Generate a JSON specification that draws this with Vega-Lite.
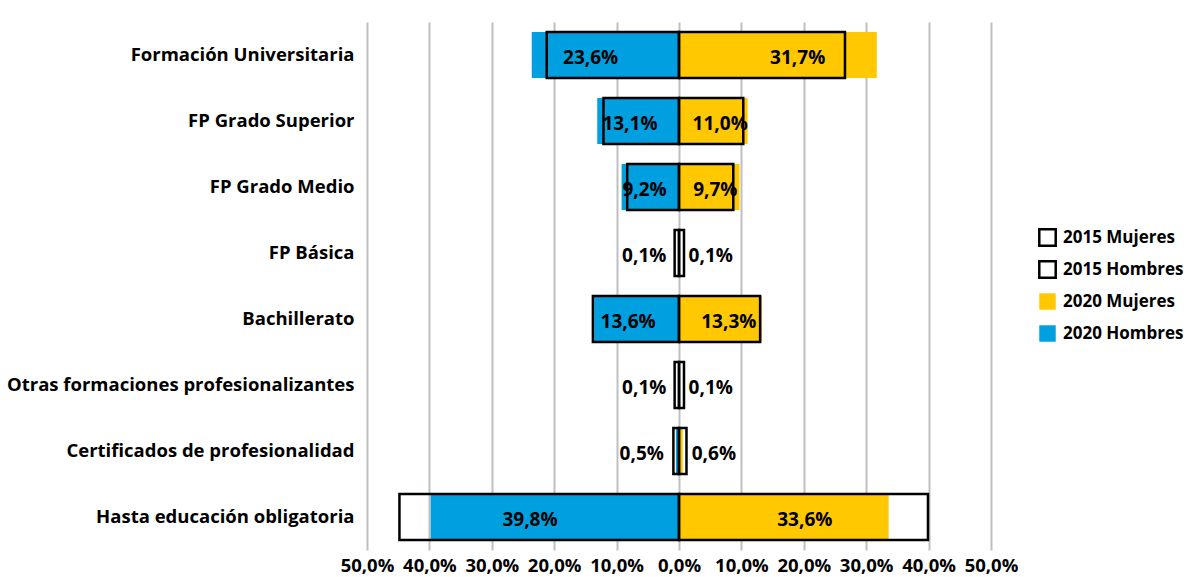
{
  "$schema": "https://vega.github.io/schema/vega-lite/v6.json",
  "autosize": {"type": "none"},
  "padding": {"left": 367, "top": 22, "right": 195, "bottom": 27},
  "width": 624,
  "height": 528,
  "background": "white",
  "config": {
    "view": {"stroke": null},
    "font": "Open Sans",
    "text": {"font": "Open Sans"}
  },
  "data": {
    "values": [
      {"cat": "Formación Universitaria", "serie": "2020 Hombres", "v": -23.6},
      {"cat": "Formación Universitaria", "serie": "2020 Mujeres", "v": 31.7},
      {"cat": "FP Grado Superior", "serie": "2020 Hombres", "v": -13.1},
      {"cat": "FP Grado Superior", "serie": "2020 Mujeres", "v": 11.0},
      {"cat": "FP Grado Medio", "serie": "2020 Hombres", "v": -9.2},
      {"cat": "FP Grado Medio", "serie": "2020 Mujeres", "v": 9.7},
      {"cat": "FP Básica", "serie": "2020 Hombres", "v": -0.1},
      {"cat": "FP Básica", "serie": "2020 Mujeres", "v": 0.1},
      {"cat": "Bachillerato", "serie": "2020 Hombres", "v": -13.6},
      {"cat": "Bachillerato", "serie": "2020 Mujeres", "v": 13.3},
      {"cat": "Otras formaciones profesionalizantes", "serie": "2020 Hombres", "v": -0.1},
      {"cat": "Otras formaciones profesionalizantes", "serie": "2020 Mujeres", "v": 0.1},
      {"cat": "Certificados de profesionalidad", "serie": "2020 Hombres", "v": -0.5},
      {"cat": "Certificados de profesionalidad", "serie": "2020 Mujeres", "v": 0.6},
      {"cat": "Hasta educación obligatoria", "serie": "2020 Hombres", "v": -39.8},
      {"cat": "Hasta educación obligatoria", "serie": "2020 Mujeres", "v": 33.6},
      {"cat": "Formación Universitaria", "serie": "2015 Hombres", "v": -21.2},
      {"cat": "Formación Universitaria", "serie": "2015 Mujeres", "v": 26.6},
      {"cat": "FP Grado Superior", "serie": "2015 Hombres", "v": -12.1},
      {"cat": "FP Grado Superior", "serie": "2015 Mujeres", "v": 10.3},
      {"cat": "FP Grado Medio", "serie": "2015 Hombres", "v": -8.3},
      {"cat": "FP Grado Medio", "serie": "2015 Mujeres", "v": 8.7},
      {"cat": "FP Básica", "serie": "2015 Hombres", "v": -0.7},
      {"cat": "FP Básica", "serie": "2015 Mujeres", "v": 0.8},
      {"cat": "Bachillerato", "serie": "2015 Hombres", "v": -13.8},
      {"cat": "Bachillerato", "serie": "2015 Mujeres", "v": 13.0},
      {"cat": "Otras formaciones profesionalizantes", "serie": "2015 Hombres", "v": -0.7},
      {"cat": "Otras formaciones profesionalizantes", "serie": "2015 Mujeres", "v": 0.8},
      {"cat": "Certificados de profesionalidad", "serie": "2015 Hombres", "v": -0.9},
      {"cat": "Certificados de profesionalidad", "serie": "2015 Mujeres", "v": 1.2},
      {"cat": "Hasta educación obligatoria", "serie": "2015 Hombres", "v": -44.8},
      {"cat": "Hasta educación obligatoria", "serie": "2015 Mujeres", "v": 39.9}
    ]
  },
  "encoding": {
    "y": {
      "field": "cat",
      "type": "nominal",
      "sort": ["Formación Universitaria", "FP Grado Superior", "FP Grado Medio", "FP Básica", "Bachillerato", "Otras formaciones profesionalizantes", "Certificados de profesionalidad", "Hasta educación obligatoria"],
      "scale": {"paddingInner": 0.3, "paddingOuter": 0.15},
      "title": null,
      "axis": {"domain": false, "ticks": false, "grid": false, "labelFontSize": 18.5, "labelFontWeight": "bold", "labelColor": "black", "labelPadding": 13, "labelFont": "Open Sans", "labelLimit": 500}
    }
  },
  "layer": [
    {
      "mark": {"type": "bar", "strokeWidth": 2.5},
      "encoding": {
        "x": {
          "field": "v",
          "type": "quantitative",
          "stack": null,
          "scale": {"domain": [-50, 50], "nice": false},
          "title": null,
          "axis": {
            "values": [-50, -40, -30, -20, -10, 0, 10, 20, 30, 40, 50],
            "labelExpr": "replace(format(abs(datum.value),'.1f'),'.',',') + '%'",
            "domain": false, "ticks": false, "grid": true,
            "gridColor": "#BFBFBF", "gridWidth": 2,
            "labelFontSize": 18.5, "labelFontWeight": "bold", "labelColor": "black",
            "labelPadding": 6, "labelFont": "Open Sans", "labelFlush": false, "labelOverlap": false
          }
        },
        "fill": {
          "field": "serie",
          "type": "nominal",
          "scale": {"domain": ["2015 Mujeres", "2015 Hombres", "2020 Mujeres", "2020 Hombres"], "range": ["transparent", "transparent", "#FFC800", "#009FDF"]},
          "legend": {
            "title": null, "orient": "none", "legendX": 671, "legendY": 206,
            "symbolType": "square", "symbolSize": 270, "symbolStrokeWidth": 2.5,
            "labelFontSize": 17, "labelFontWeight": "bold", "labelColor": "black", "labelFont": "Open Sans",
            "rowPadding": 5, "labelOffset": 6, "labelLimit": 300
          }
        },
        "stroke": {
          "field": "serie",
          "type": "nominal",
          "scale": {"domain": ["2015 Mujeres", "2015 Hombres", "2020 Mujeres", "2020 Hombres"], "range": ["black", "black", "transparent", "transparent"]}
        }
      }
    },
    {
      "transform": [
        {"filter": "indexof(datum.serie, '2020') == 0 && abs(datum.v) >= 1"},
        {"calculate": "datum.v * 0.6", "as": "pos"},
        {"calculate": "replace(format(abs(datum.v),'.1f'),'.',',') + '%'", "as": "lbl"}
      ],
      "mark": {"type": "text", "fontSize": 19, "fontWeight": "bold", "color": "black", "baseline": "middle", "dy": 3},
      "encoding": {
        "x": {"field": "pos", "type": "quantitative"},
        "text": {"field": "lbl"}
      }
    },
    {
      "transform": [
        {"filter": "datum.serie == '2020 Hombres' && abs(datum.v) < 1"},
        {"calculate": "replace(format(abs(datum.v),'.1f'),'.',',') + '%'", "as": "lbl"}
      ],
      "mark": {"type": "text", "fontSize": 19, "fontWeight": "bold", "color": "black", "baseline": "middle", "align": "right", "dx": -12, "dy": 3},
      "encoding": {
        "x": {"field": "v", "type": "quantitative"},
        "text": {"field": "lbl"}
      }
    },
    {
      "transform": [
        {"filter": "datum.serie == '2020 Mujeres' && abs(datum.v) < 1"},
        {"calculate": "replace(format(abs(datum.v),'.1f'),'.',',') + '%'", "as": "lbl"}
      ],
      "mark": {"type": "text", "fontSize": 19, "fontWeight": "bold", "color": "black", "baseline": "middle", "align": "left", "dx": 9, "dy": 3},
      "encoding": {
        "x": {"field": "v", "type": "quantitative"},
        "text": {"field": "lbl"}
      }
    }
  ]
}
